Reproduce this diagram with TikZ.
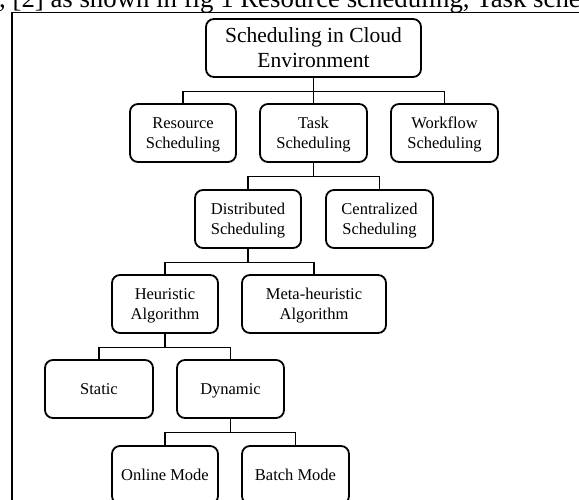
\documentclass[tikz,border=0pt]{standalone}
\usepackage{fontspec}
\setmainfont{Liberation Serif}
\begin{document}
\begin{tikzpicture}[x=1pt,y=-1pt,
  box/.style={draw, line width=1.8pt, rounded corners=8pt, minimum height=58pt,
    inner sep=0pt, align=center, text depth=0pt, font=\fontsize{16.5}{20}\selectfont},
  onebox/.style={box, text height=11pt},
  rootbox/.style={box, font=\fontsize{21.5}{25}\selectfont},
  link/.style={line width=1.8pt, line join=miter},
  frameline/.style={line width=1.8pt}]
  \useasboundingbox (0,0) rectangle (579,499);
  \clip (0,0) rectangle (579,499);

  % running text above the figure frame
  \node[anchor=base west, inner sep=0pt, font=\fontsize{26.8}{30}\selectfont] (caption) at (-1,7)
    {, [2] as shown in fig 1 Resource scheduling, Task scheduling};

  % figure frame
  \coordinate (fa) at (12,509);
  \coordinate (fb) at (12,12.5);
  \coordinate (fc) at (590,12.5);
  \draw[frameline] (fa) -- (fb) -- (fc);

  % nodes
  \node[rootbox, minimum width=215pt] (root) at (313.5,48) {Scheduling in Cloud\\Environment};

  \node[box, minimum width=106pt] (res)  at (183,133)   {Resource\\Scheduling};
  \node[box, minimum width=107pt] (task) at (313.5,133) {Task\\Scheduling};
  \node[box, minimum width=107pt] (wf)   at (444.5,133) {Workflow\\Scheduling};

  \node[box, minimum width=106pt] (dist) at (248,219)   {Distributed\\Scheduling};
  \node[box, minimum width=107pt] (cent) at (379.5,219) {Centralized\\Scheduling};

  \node[box, minimum width=106pt] (heur) at (165,304)   {Heuristic\\Algorithm};
  \node[box, minimum width=144pt] (meta) at (314,304)   {Meta-heuristic\\Algorithm};

  \node[onebox, minimum width=108pt] (stat) at (99,389)    {Static};
  \node[onebox, minimum width=107pt] (dyn)  at (230.5,389) {Dynamic};

  \node[onebox, minimum width=106pt] (onl)  at (165,475)   {Online Mode};
  \node[onebox, minimum width=107pt] (bat)  at (295.5,475) {Batch Mode};

  % connectors
  \foreach \p/\c in {root/res, root/task, root/wf,
                     task/dist, task/cent,
                     dist/heur, dist/meta,
                     heur/stat, heur/dyn,
                     dyn/onl, dyn/bat}
    \draw[link] (\p.south) -- ++(0,13.5) -| (\c.north);
\end{tikzpicture}
\end{document}
